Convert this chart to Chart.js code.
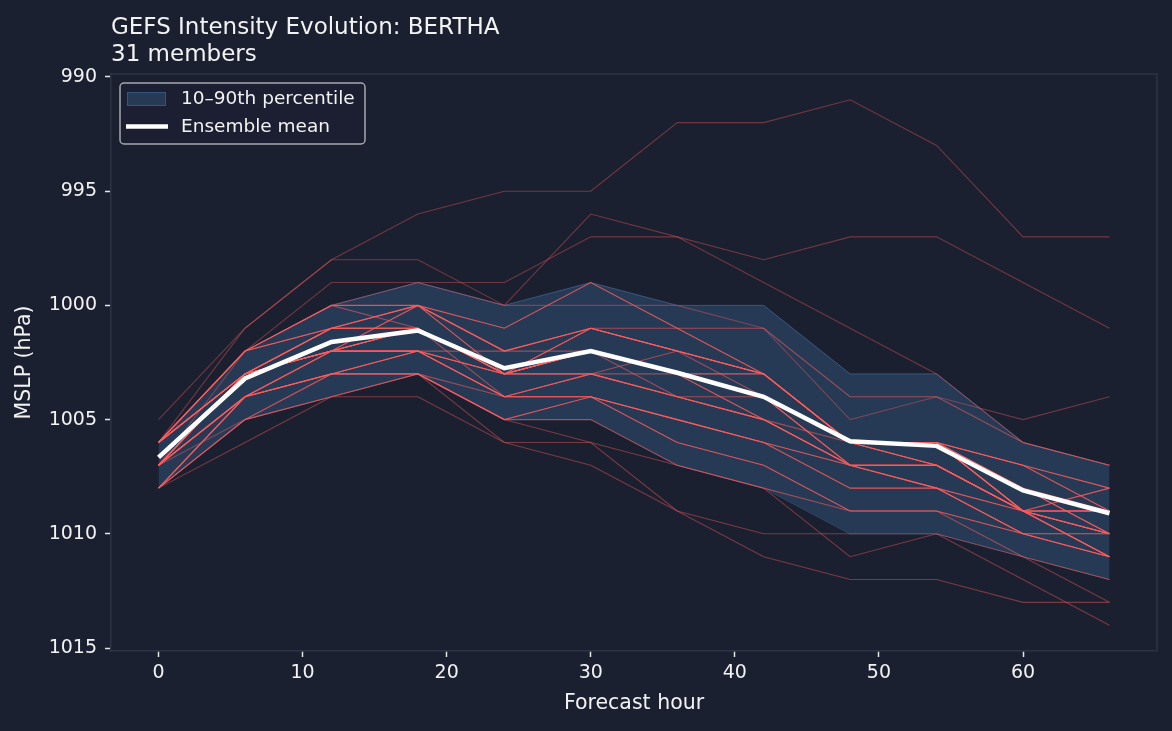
<!DOCTYPE html>
<html>
<head>
<meta charset="utf-8">
<script src="https://cdn.jsdelivr.net/npm/chart.js@4.4.1/dist/chart.umd.min.js"></script>
<style>
html,body{margin:0;padding:0;background:#1b2031;}
#wrap{width:1172px;height:731px;position:relative;}
</style>
</head>
<body>
<div id="wrap"><canvas id="c" width="1172" height="731"></canvas></div>
<script>
const hours = [0,6,12,18,24,30,36,42,48,54,60,66];
const xTicks = [0,10,20,30,40,50,60];
const yTicks = [990,995,1000,1005,1010,1015];

const m01 = [1005,1001,998,996,995,995,992,992,991,993,997,997];
const m02 = [1006,1001,998,998,1000,996,997,998,997,997,999,1001];
const m03 = [1006,1002,999,999,999,997,997,999,1001,1003,1006,1007];
const m04 = [1007,1002,1000,999,1000,1000,1000,1001,1005,1004,1005,1004];
const m05 = [1008,1006,1004,1004,1006,1007,1009,1011,1012,1012,1013,1013];
const m06 = [1007,1005,1003,1003,1006,1006,1009,1010,1010,1010,1012,1014];
const m07 = [1008,1005,1004,1003,1005,1006,1007,1008,1011,1010,1011,1013];
const m08 = [1007,1003,1002,1000,1002,1001,1002,1003,1006,1006,1009,1009];
const m09 = [1007,1003,1001,1001,1003,1002,1003,1004,1006,1006,1008,1010];
const m10 = [1006,1002,1001,1001,1003,1001,1001,1001,1004,1004,1006,1007];
const m11 = [1006,1002,1000,1000,1002,1001,1002,1003,1006,1006,1009,1010];
const m12 = [1007,1003,1002,1001,1003,1003,1004,1005,1007,1007,1009,1009];
const m13 = [1008,1004,1003,1002,1004,1004,1005,1006,1007,1008,1009,1010];
const m14 = [1007,1004,1002,1002,1003,1002,1003,1004,1006,1006,1009,1008];
const m15 = [1006,1003,1001,1000,1001,999,1001,1003,1006,1006,1007,1009];
const m16 = [1007,1003,1002,1001,1004,1003,1003,1004,1006,1007,1009,1010];
const m17 = [1007,1004,1003,1003,1005,1004,1005,1006,1008,1008,1010,1011];
const m18 = [1008,1005,1004,1003,1004,1003,1004,1005,1007,1007,1009,1010];
const m19 = [1006,1003,1002,1002,1002,1002,1004,1005,1007,1007,1009,1011];
const m20 = [1006,1002,1001,1000,1003,1002,1003,1003,1006,1006,1007,1008];
const m21 = [1007,1004,1002,1001,1003,1001,1002,1004,1006,1007,1009,1009];
const m22 = [1008,1004,1002,1002,1004,1004,1006,1007,1009,1009,1010,1011];
const m23 = [1006,1003,1001,1001,1003,1003,1004,1004,1006,1006,1008,1009];
const m24 = [1006,1003,1002,1002,1003,1001,1002,1003,1006,1006,1008,1010];
const m25 = [1007,1003,1001,1001,1003,1002,1003,1004,1007,1008,1010,1010];
const m26 = [1008,1005,1003,1003,1005,1005,1007,1008,1009,1009,1011,1012];
const m27 = [1006,1002,1000,1001,1003,1003,1004,1005,1006,1006,1009,1009];
const m28 = [1006,1003,1002,1001,1003,1002,1003,1005,1007,1007,1009,1011];
const m29 = [1007,1003,1002,1002,1004,1003,1002,1003,1006,1006,1008,1010];
const m30 = [1007,1004,1003,1002,1003,1002,1003,1004,1006,1007,1009,1011];
const m31 = [1006,1003,1002,1001,1003,1002,1003,1004,1007,1007,1009,1008];

const members = [m01,m02,m03,m04,m05,m06,m07,m08,m09,m10,m11,m12,m13,m14,m15,m16,
                 m17,m18,m19,m20,m21,m22,m23,m24,m25,m26,m27,m28,m29,m30,m31];

const ensembleMean = [1006.65,1003.2,1001.6,1001.1,1002.75,1002.0,1002.95,1004.0,1005.95,1006.15,1008.1,1009.1];
const p10 = [1006,1002,1000,999,1000,999,1000,1000,1003,1003,1006,1007];
const p90 = [1008,1005,1004,1003,1005,1005,1007,1008,1010,1010,1011,1012];

// style only: opacity per member line
const memberAlpha = [0.38,0.38,0.38,0.38,0.42,0.42,0.42,
  0.85,0.55,0.55,0.85,0.55,0.85,0.55,0.85,0.55,0.85,0.55,0.55,0.85,0.55,0.85,0.55,0.55,0.85,0.55,0.55,0.85,0.55,0.85,0.55];

const BG = '#1b2031';
const FONT = "'DejaVu Sans', sans-serif";
const toXY = arr => arr.map((v,i)=>({x:hours[i], y:v}));

const datasets = [];
datasets.push({label:'Ensemble mean', data:toXY(ensembleMean), borderColor:'#ffffff', borderWidth:4.5,
  pointRadius:0, fill:false, order:0, borderCapStyle:'butt', borderJoinStyle:'miter'});
members.forEach((m,i)=>{
  datasets.push({label:'m'+(i+1), data:toXY(m), borderColor:`rgba(255,92,92,${memberAlpha[i]})`,
    borderWidth:1.1, pointRadius:0, fill:false, order:1});
});
datasets.push({label:'p90', data:toXY(p90), borderColor:'rgba(70,105,150,0.7)', borderWidth:1,
  pointRadius:0, fill:false, order:3});
datasets.push({label:'10–90th percentile', data:toXY(p10), borderColor:'rgba(70,105,150,0.7)', borderWidth:1,
  pointRadius:0, fill:{target: datasets.length-1}, backgroundColor:'#263a55', order:2});

const deco = {
  id:'deco',
  beforeDraw(chart){
    const {ctx, width, height} = chart;
    ctx.save(); ctx.fillStyle = BG; ctx.fillRect(0,0,width,height); ctx.restore();
  },
  afterDraw(chart){
    const {ctx, chartArea:a} = chart;
    ctx.save();
    ctx.strokeStyle = '#2d3344'; ctx.lineWidth = 1.5;
    ctx.beginPath();
    ctx.moveTo(a.left, a.top); ctx.lineTo(a.right, a.top); ctx.lineTo(a.right, a.bottom);
    ctx.stroke();
    ctx.fillStyle = '#f2f2f2';
    ctx.font = `23px ${FONT}`;
    ctx.textAlign = 'left'; ctx.textBaseline = 'alphabetic';
    ctx.fillText('GEFS Intensity Evolution: BERTHA', a.left, 34);
    ctx.fillText('31 members', a.left, 61);
    const lx = 120, ly = 83, lw = 245, lh = 61, r = 4;
    ctx.beginPath();
    ctx.moveTo(lx+r, ly); ctx.lineTo(lx+lw-r, ly); ctx.arcTo(lx+lw, ly, lx+lw, ly+r, r);
    ctx.lineTo(lx+lw, ly+lh-r); ctx.arcTo(lx+lw, ly+lh, lx+lw-r, ly+lh, r);
    ctx.lineTo(lx+r, ly+lh); ctx.arcTo(lx, ly+lh, lx, ly+lh-r, r);
    ctx.lineTo(lx, ly+r); ctx.arcTo(lx, ly, lx+r, ly, r); ctx.closePath();
    ctx.fillStyle = 'rgba(27,32,49,0.85)'; ctx.fill();
    ctx.strokeStyle = 'rgba(190,192,198,0.85)'; ctx.lineWidth = 1.5; ctx.stroke();
    ctx.fillStyle = '#263a55'; ctx.fillRect(127.5, 92.5, 38, 13);
    ctx.strokeStyle = '#34557c'; ctx.lineWidth = 1; ctx.strokeRect(127.5, 92.5, 38, 13);
    ctx.strokeStyle = '#ffffff'; ctx.lineWidth = 4.5; ctx.lineCap = 'butt';
    ctx.beginPath(); ctx.moveTo(126, 126.5); ctx.lineTo(168, 126.5); ctx.stroke();
    ctx.fillStyle = '#f2f2f2'; ctx.font = `18.5px ${FONT}`; ctx.textBaseline = 'middle';
    ctx.fillText('10–90th percentile', 181, 99);
    ctx.fillText('Ensemble mean', 181, 127);
    ctx.restore();
  }
};

new Chart(document.getElementById('c'), {
  type:'line',
  data:{datasets},
  plugins:[deco],
  options:{
    responsive:false, animation:false, devicePixelRatio:1,
    layout:{padding:{top:74, right:15, bottom:0, left:0}},
    plugins:{legend:{display:false}, title:{display:false}, tooltip:{enabled:false},
      filler:{propagate:false}},
    elements:{line:{tension:0}},
    scales:{
      x:{type:'linear', min:-3.3, max:69.3,
        afterBuildTicks: s => { s.ticks = xTicks.map(v=>({value:v})); },
        afterFit: s => { s.height = 80; },
        grid:{drawOnChartArea:false, drawTicks:true, tickLength:6, tickColor:'#e6e6e6', tickWidth:1.5},
        border:{display:true, color:'#2d3344', width:1.5},
        ticks:{color:'#f2f2f2', font:{family:FONT, size:19}, padding:5, maxRotation:0,
          callback: v => String(v)},
        title:{display:true, text:'Forecast hour', color:'#f2f2f2', font:{family:FONT, size:20.5}, padding:{top:0,bottom:15}}
      },
      y:{type:'linear', reverse:true, min:989.87, max:1015.13,
        afterBuildTicks: s => { s.ticks = yTicks.map(v=>({value:v})); },
        afterFit: s => { s.width = 111; },
        grid:{drawOnChartArea:false, drawTicks:true, tickLength:6, tickColor:'#e6e6e6', tickWidth:1.5},
        border:{display:true, color:'#2d3344', width:1.5},
        ticks:{color:'#f2f2f2', font:{family:FONT, size:19}, padding:8,
          callback: v => String(v)},
        title:{display:true, text:'MSLP (hPa)', color:'#f2f2f2', font:{family:FONT, size:20.5}, padding:{top:12,bottom:0}}
      }
    }
  }
});
</script>
</body>
</html>
